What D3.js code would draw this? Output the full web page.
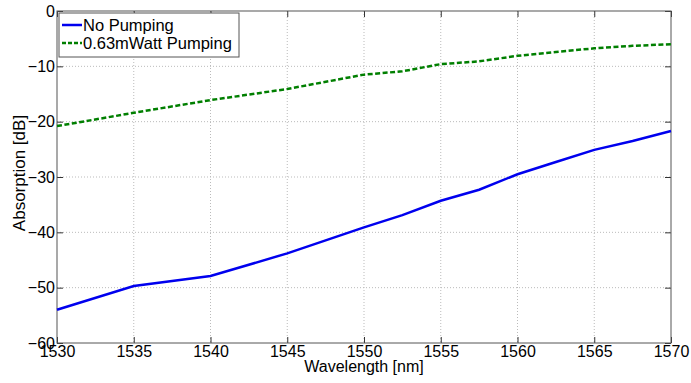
<!DOCTYPE html>
<html>
<head>
<meta charset="utf-8">
<script src="https://cdn.jsdelivr.net/npm/d3@7"></script>
<style>
body{margin:0;background:#fff;}
text{font-family:"Liberation Sans",Arial,sans-serif;fill:#000;}
</style>
</head>
<body>
<div id="chart"></div>
<script>
// data
const wavelength = [1530,1535,1540,1545,1550,1552.5,1555,1557.5,1560,1562.5,1565,1567.5,1570];
const noPumping = [-54.0,-49.7,-47.9,-43.8,-39.1,-36.9,-34.3,-32.3,-29.5,-27.3,-25.1,-23.5,-21.7];
const pumping = [-20.8,-18.4,-16.1,-14.1,-11.5,-10.9,-9.6,-9.1,-8.1,-7.4,-6.75,-6.3,-6.0];
const xTicks = [1530,1535,1540,1545,1550,1555,1560,1565,1570];
const yTicks = [0,-10,-20,-30,-40,-50,-60];
const seriesNames = ["No Pumping","0.63mWatt Pumping"];

const W = 691, H = 383;
const margin = {top:11,right:20,bottom:40,left:57};
const width = W - margin.left - margin.right;
const height = H - margin.top - margin.bottom;

const svg = d3.select("#chart").append("svg")
    .attr("width",W).attr("height",H);
const g = svg.append("g")
    .attr("transform",`translate(${margin.left},${margin.top})`);

const x = d3.scaleLinear().domain([1530,1570]).range([0,width]);
const y = d3.scaleLinear().domain([-60,0]).range([height,0]);

// grid
g.selectAll(".gx").data(xTicks.slice(1,-1)).enter().append("line")
    .attr("x1",d=>x(d)).attr("x2",d=>x(d)).attr("y1",0).attr("y2",height)
    .style("stroke","#bbb").style("stroke-width",1).style("stroke-dasharray","1,2");
g.selectAll(".gy").data(yTicks.slice(1,-1)).enter().append("line")
    .attr("y1",d=>y(d)).attr("y2",d=>y(d)).attr("x1",0).attr("x2",width)
    .style("stroke","#bbb").style("stroke-width",1).style("stroke-dasharray","1,2");

// axes, matlab style inner ticks
const tickStyle = sel => {
    sel.select(".domain").remove();
    sel.selectAll(".tick line").style("stroke","#333");
    sel.selectAll("text").style("font-size","16px").style("font-family","Liberation Sans, Arial, sans-serif");
};
g.append("g").attr("transform",`translate(0,${height})`)
    .call(d3.axisBottom(x).tickValues(xTicks).tickFormat(d3.format("d")).tickSizeInner(-6).tickPadding(3))
    .call(tickStyle);
g.append("g")
    .call(d3.axisLeft(y).tickValues(yTicks).tickFormat(d3.format("d")).tickSizeInner(-6).tickPadding(2))
    .call(tickStyle);
g.append("g")
    .call(d3.axisTop(x).tickValues(xTicks).tickFormat("").tickSizeInner(-6))
    .call(tickStyle);
g.append("g").attr("transform",`translate(${width},0)`)
    .call(d3.axisRight(y).tickValues(yTicks).tickFormat("").tickSizeInner(-6))
    .call(tickStyle);

g.append("rect").attr("width",width).attr("height",height)
    .style("fill","none").style("stroke","#555").style("stroke-width",1);

// lines
const line = vals => d3.line().x((d,i)=>x(wavelength[i])).y(d=>y(d))(vals);
g.append("path").attr("d",line(noPumping))
    .style("fill","none").style("stroke","#0000ee").style("stroke-width",2.5);
g.append("path").attr("d",line(pumping))
    .style("fill","none").style("stroke","#007f00").style("stroke-width",2.5)
    .style("stroke-dasharray","5,2.5");

// legend
const leg = g.append("g").attr("transform","translate(2,2)");
leg.append("rect").attr("width",180).attr("height",44)
    .style("fill","#fff").style("stroke","#555").style("stroke-width",1);
seriesNames.forEach((name,i) => {
    const ly = 12 + i*18;
    leg.append("line").attr("x1",3).attr("x2",23).attr("y1",ly).attr("y2",ly)
        .style("stroke",i===0?"#0000ee":"#007f00").style("stroke-width",2.5)
        .style("stroke-dasharray",i===0?null:"4,2");
    leg.append("text").attr("x",24).attr("y",ly+6).text(name).style("font-size","16.5px");
});

// labels
svg.append("text")
    .attr("transform",`translate(${margin.left + width/2},${H-11})`)
    .style("text-anchor","middle").style("font-size","16px")
    .text("Wavelength [nm]");
svg.append("text")
    .attr("transform",`translate(25,${margin.top + height/2 - 4}) rotate(-90)`)
    .style("text-anchor","middle").style("font-size","17px")
    .text("Absorption [dB]");
</script>
</body>
</html>
